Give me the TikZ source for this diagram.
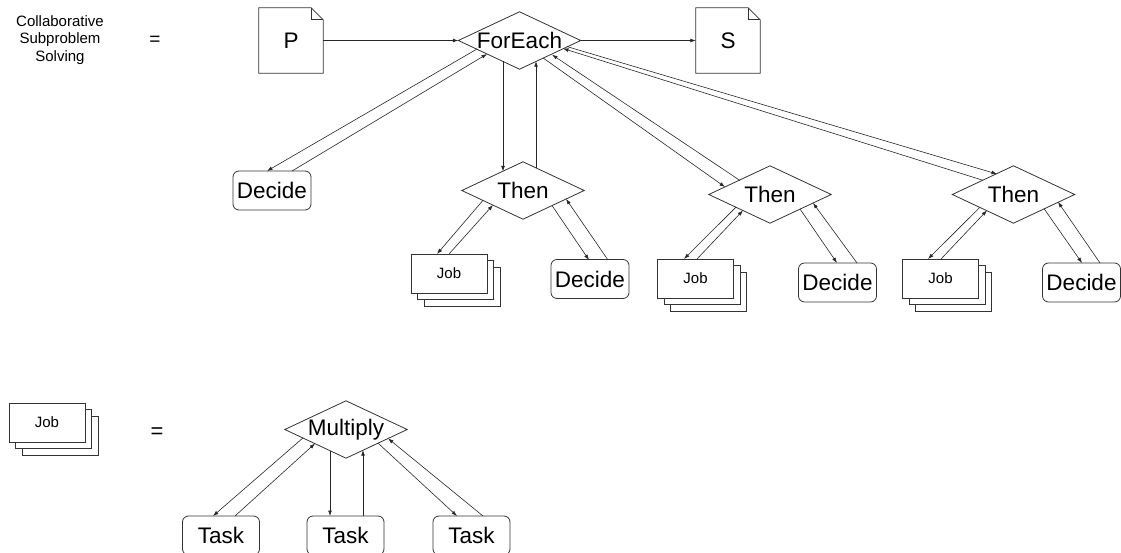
\documentclass[tikz,border=0pt]{standalone}
\usepackage{fontspec}
\setmainfont{Liberation Sans}
\usetikzlibrary{arrows.meta,shadows}

\tikzset{
  big/.style={font=\fontsize{22.5}{26}\selectfont},
  gate/.style={big, rectangle, minimum width=122pt, minimum height=57pt, inner sep=0pt},
  decide/.style={big, draw=black!80, line width=0.8pt, rounded corners=6pt,
    minimum width=78pt, minimum height=39pt, inner sep=0pt, fill=white},
  task/.style={decide, minimum width=77pt},
  jobbox/.style={font=\fontsize{15}{18}\selectfont, draw=black!80, line width=0.8pt, fill=white,
    minimum width=76pt, minimum height=39pt, inner sep=0pt,
    double copy shadow={shadow xshift=6.5pt, shadow yshift=-6.5pt, draw=black!80, line width=0.8pt, fill=white}},
  docnode/.style={big, rectangle, minimum width=64pt, minimum height=65pt, inner sep=0pt},
  shapeline/.style={draw=black!80, line width=0.8pt, line join=miter},
  link/.style={draw=black!85, line width=0.6pt, -{Latex[length=5.5pt,width=3.8pt]}},
}

\begin{document}
\begin{tikzpicture}[x=1pt,y=-1pt]
\useasboundingbox (0,0) rectangle (1121,553);

% ---- definition of collaborative subproblem solving ----
\node[align=center, font=\fontsize{15}{17.5}\selectfont] (title) at (60,40)
  {Collaborative\\Subproblem\\Solving};
\node[font=\fontsize{19}{20}\selectfont] (eq1) at (155,41) {=};

\node[docnode] (p) at (291,40.5) {P};
\node[docnode] (s) at (728,40.5) {S};
\foreach \n in {p,s}{
  \draw[shapeline] (\n.north west) -- ([xshift=-12pt]\n.north east)
    -- ([yshift=-12pt]\n.north east) -- (\n.south east) -- (\n.south west) -- cycle;
  \draw[shapeline] ([xshift=-12pt]\n.north east) -- ([xshift=-12pt,yshift=-12pt]\n.north east)
    -- ([yshift=-12pt]\n.north east);
}

\node[gate] (fe) at (519.5,40.5) {ForEach};
\node[decide] (d0) at (272,190.5) {Decide};
\node[gate] (t1) at (523,190.5) {Then};
\node[gate] (t2) at (770,194.5) {Then};
\node[gate] (t3) at (1013.5,194.5) {Then};

\node[jobbox] (j1) at (449,273.5) {Job};
\node[decide] (d1) at (590,279) {Decide};
\node[jobbox] (j2) at (695.5,278.5) {Job};
\node[decide] (d2) at (837.5,282.5) {Decide};
\node[jobbox] (j3) at (940.5,278.5) {Job};
\node[decide] (d3) at (1081.5,282.5) {Decide};

% ---- definition of a job ----
\node[jobbox] (jl) at (47,422.5) {Job};
\node[font=\fontsize{22}{24}\selectfont] (eq2) at (157,433) {=};
\node[gate] (mu) at (346,429.5) {Multiply};
\node[task] (k1) at (221,535.5) {Task};
\node[task] (k2) at (345.5,535.5) {Task};
\node[task] (k3) at (471.5,535.5) {Task};

% diamond outlines
\foreach \n in {fe,t1,t2,t3,mu}{
  \draw[shapeline] (\n.north) -- (\n.east) -- (\n.south) -- (\n.west) -- cycle;
}

% ---- connectors ----
\draw[link] (p.east) -- (fe.west);
\draw[link] (fe.east) -- (s.west);

\draw[link] ([shift={(-42.5,8.5)}]fe.center) -- ([shift={(-5,-19.5)}]d0.center);
\draw[link] ([shift={(20,-19.5)}]d0.center) -- ([shift={(-32.5,13.5)}]fe.center);

\draw[link] ([shift={(-16.5,20.7)}]fe.center) -- ([shift={(-20,-19.1)}]t1.center);
\draw[link] ([shift={(13,-22.4)}]t1.center) -- ([shift={(16.5,20.7)}]fe.center);

\draw[link] ([shift={(23.5,17.4)}]fe.center) -- ([shift={(-45,-7.5)}]t2.center);
\draw[link] ([shift={(-30,-14)}]t2.center) -- ([shift={(32.5,14.2)}]fe.center);

\draw[link] ([shift={(47.5,6.1)}]fe.center) -- ([shift={(-16.5,-20.5)}]t3.center);
\draw[link] ([shift={(-30.5,-14.2)}]t3.center) -- ([shift={(43.5,8)}]fe.center);

\draw[link] ([shift={(-40,9.8)}]t1.center) -- ([shift={(-12,-19.5)}]j1.center);
\draw[link] ([shift={(0,-19.5)}]j1.center) -- ([shift={(-30,14.5)}]t1.center);
\draw[link] ([shift={(29,15)}]t1.center) -- ([shift={(-1,-19)}]d1.center);
\draw[link] ([shift={(18,-19)}]d1.center) -- ([shift={(43,8.4)}]t1.center);

\draw[link] ([shift={(-34,12.6)}]t2.center) -- ([shift={(-11.5,-19.5)}]j2.center);
\draw[link] ([shift={(1.5,-19.5)}]j2.center) -- ([shift={(-27,15.9)}]t2.center);
\draw[link] ([shift={(30,14.5)}]t2.center) -- ([shift={(-0.5,-19.5)}]d2.center);
\draw[link] ([shift={(19.5,-19.5)}]d2.center) -- ([shift={(43,8.4)}]t2.center);

\draw[link] ([shift={(-33.5,12.7)}]t3.center) -- ([shift={(-12.5,-19.5)}]j3.center);
\draw[link] ([shift={(0.5,-19.5)}]j3.center) -- ([shift={(-26.5,15.9)}]t3.center);
\draw[link] ([shift={(30.5,14.1)}]t3.center) -- ([shift={(0.5,-19.5)}]d3.center);
\draw[link] ([shift={(18.5,-19.5)}]d3.center) -- ([shift={(44.5,7.5)}]t3.center);

\draw[link] ([shift={(-43,8.4)}]mu.center) -- ([shift={(-8,-19.5)}]k1.center);
\draw[link] ([shift={(14,-19.5)}]k1.center) -- ([shift={(-31,14)}]mu.center);
\draw[link] ([shift={(-16,21)}]mu.center) -- ([shift={(-15.5,-19.5)}]k2.center);
\draw[link] ([shift={(17.5,-19.5)}]k2.center) -- ([shift={(17,20.6)}]mu.center);
\draw[link] ([shift={(32,13.6)}]mu.center) -- ([shift={(-14.5,-19.5)}]k3.center);
\draw[link] ([shift={(11.5,-19.5)}]k3.center) -- ([shift={(42,8.9)}]mu.center);
\end{tikzpicture}
\end{document}
